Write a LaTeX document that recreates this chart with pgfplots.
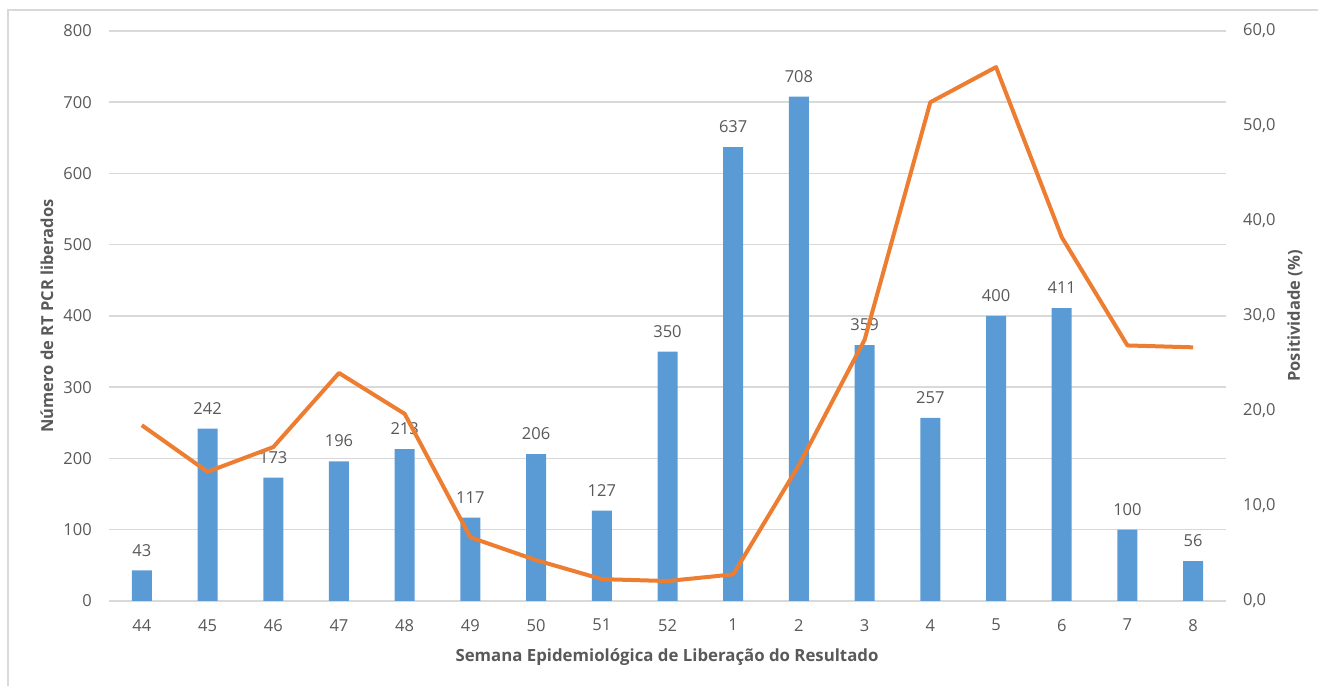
\documentclass[border=0pt]{standalone}
\usepackage{pgfplots}
\pgfplotsset{compat=1.18}
\usepackage{fontspec}
\setmainfont{Open Sans}
\definecolor{barblue}{HTML}{5B9BD5}
\definecolor{lineorange}{HTML}{ED7D31}
\definecolor{gridgray}{HTML}{D9D9D9}
\definecolor{textgray}{HTML}{595959}

% semanas 44..52 e 1..8 em x = 0..16
\pgfplotstableread{
x n pos
0 43 18.5
1 242 13.6
2 173 16.2
3 196 24.0
4 213 19.7
5 117 6.7
6 206 4.3
7 127 2.3
8 350 2.1
9 637 2.8
10 708 14.3
11 359 27.5
12 257 52.5
13 400 56.2
14 411 38.3
15 100 26.9
16 56 26.7
}\dados

\begin{document}
\begin{tikzpicture}
\useasboundingbox (0,0) rectangle (1318bp,686bp);
\draw[gridgray, line width=1.5bp] (8bp,-5bp) -- (8bp,676bp) -- (1325bp,676bp);
\pgfplotsset{
  common/.style={
    at={(109bp,85bp)}, anchor=south west,
    scale only axis, width=1117bp, height=570bp,
    xmin=-0.5, xmax=16.5,
    font=\fontsize{16.5bp}{19bp}\selectfont,
    tick label style={text=textgray},
    major tick length=0pt,
    /pgf/number format/assume math mode=true,
  }
}
\begin{axis}[common,
  ymin=0, ymax=800, ytick distance=100,
  ymajorgrids, grid style={gridgray, line width=1.5bp},
  axis x line*=bottom, axis y line*=left,
  x axis line style={gridgray, line width=1.5bp, -},
  y axis line style={draw=none},
  xtick=data,
  xticklabels={44,45,46,47,48,49,50,51,52,1,2,3,4,5,6,7,8},
  xticklabel style={anchor=north, inner sep=0pt, yshift=-18bp},
  yticklabel style={anchor=east, inner sep=0pt, xshift=-17bp},
]
\addplot[ybar, bar width=20bp, fill=barblue, draw=none,
  nodes near coords,
  every node near coord/.append style={anchor=south, inner sep=0pt, yshift=14bp,
    text=textgray, font=\fontsize{16.5bp}{19bp}\selectfont}]
  table[x=x, y=n] {\dados};
\end{axis}
\begin{axis}[common,
  ymin=0, ymax=60, ytick distance=10,
  axis y line*=right, axis x line=none,
  xtick=\empty,
  y axis line style={draw=none},
  yticklabel style={anchor=west, inner sep=0pt, xshift=17bp},
  yticklabel={\pgfmathprintnumber[fixed, fixed zerofill, precision=1, use comma, assume math mode=true]{\tick}},
]
\addplot[lineorange, line width=4bp, line join=round] table[x=x, y=pos] {\dados};
\end{axis}
\node[rotate=90, text=textgray, font=\fontsize{16.5bp}{19bp}\selectfont\bfseries] at (47bp,370bp) {Número de RT PCR liberados};
\node[rotate=90, text=textgray, font=\fontsize{16.5bp}{19bp}\selectfont\bfseries] at (1295bp,370bp) {Positividade (\%)};
\node[text=textgray, font=\fontsize{16.8bp}{19bp}\selectfont\bfseries] at (667bp,29bp) {Semana Epidemiológica de Liberação do Resultado};
\end{tikzpicture}
\end{document}
